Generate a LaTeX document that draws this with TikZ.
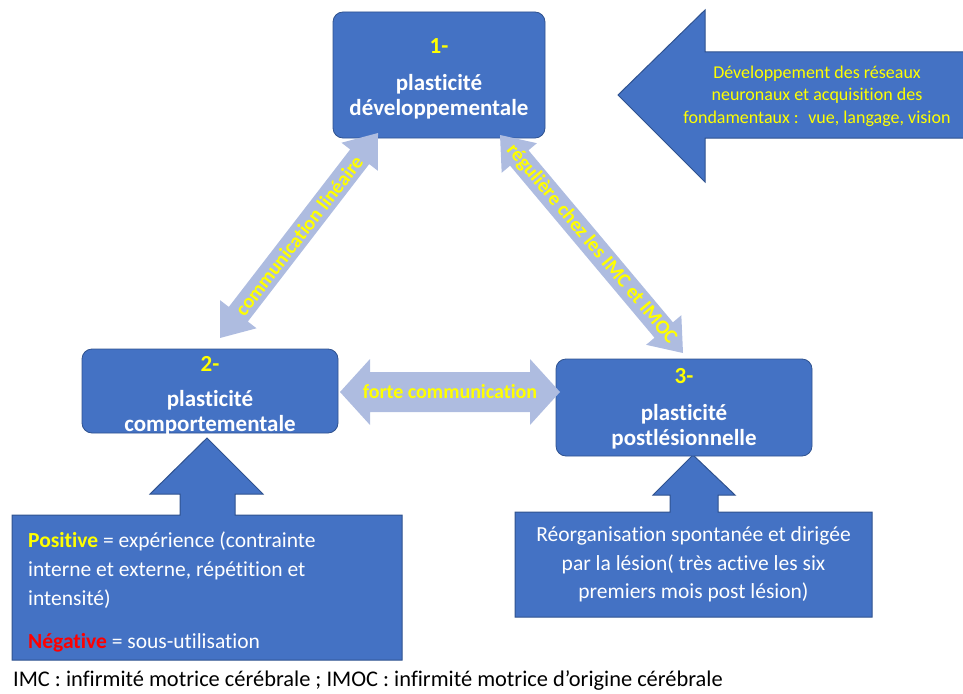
\documentclass[tikz,border=0pt]{standalone}
\usepackage{fontspec}
\setmainfont{Carlito}[Ligatures=NoCommon]
\usetikzlibrary{calc}
\definecolor{boxblue}{HTML}{4472C4}
\definecolor{boxedge}{HTML}{2F528F}
\definecolor{pale}{HTML}{AEBCE0}
\definecolor{ylw}{HTML}{FFFF00}
\definecolor{rd}{HTML}{FF0000}
% fat double arrow: A, B, half shaft, half head, head length, style
\newcommand\paledouble[6]{%
  \fill[#6] (#1)
    -- ($($(#1)!#5!(#2)$)!#4!90:(#2)$)
    -- ($($(#1)!#5!(#2)$)!#3!90:(#2)$)
    -- ($($(#2)!#5!(#1)$)!#3!-90:(#1)$)
    -- ($($(#2)!#5!(#1)$)!#4!-90:(#1)$)
    -- (#2)
    -- ($($(#2)!#5!(#1)$)!#4!90:(#1)$)
    -- ($($(#2)!#5!(#1)$)!#3!90:(#1)$)
    -- ($($(#1)!#5!(#2)$)!#3!-90:(#2)$)
    -- ($($(#1)!#5!(#2)$)!#4!-90:(#2)$)
    -- cycle;}
\tikzset{
  mainbox/.style={fill=boxblue, draw=boxedge, line width=0.8pt, rounded corners=10pt,
    inner sep=0pt},
  boxtext/.style={inner sep=0pt, align=center, text=white,
    font=\fontsize{23}{25}\selectfont\bfseries},
  bluecallout/.style={fill=boxblue, draw=boxedge, line width=1pt},
  arrowtext/.style={text=ylw, inner sep=0pt, font=\fontsize{20}{22}\selectfont\bfseries},
  calltext/.style={text=white, inner sep=0pt, font=\fontsize{21.5}{28.5}\selectfont},
}
\begin{document}
\begin{tikzpicture}[x=1pt,y=-1pt]
\useasboundingbox (0,0) rectangle (963,693);

% big arrow top right
\draw[bluecallout] (618,95) -- (705,10) -- (705,52) -- (966,52) -- (966,138)
  -- (705,138) -- (705,182) -- cycle;
\node[text=ylw, align=center, inner sep=0pt, font=\fontsize{18}{22.5}\selectfont]
  (devtext) at (817,96) {Développement des réseaux\\neuronaux et acquisition des\\fondamentaux :~ vue, langage, vision};

% bottom-left callout
\draw[bluecallout] (12,515) -- (180,515) -- (180,494) -- (150,494) -- (207,438)
  -- (263,494) -- (235,494) -- (235,515) -- (402,515) -- (402,660) -- (12,660) -- cycle;
\node[calltext, anchor=base west] (pos1) at (28,547) {\textcolor{ylw}{\bfseries Positive} = expérience (contrainte};
\node[calltext, anchor=base west] (pos2) at (28,576) {interne et externe, répétition et};
\node[calltext, anchor=base west] (pos3) at (28,605) {intensité)};
\node[calltext, anchor=base west] (neg) at (28,648) {\textcolor{rd}{\bfseries Négative} = sous-utilisation};

% bottom-right callout
\draw[bluecallout] (515,512) -- (670,512) -- (670,495) -- (653,495) -- (693,455)
  -- (735,495) -- (718,495) -- (718,512) -- (872,512) -- (872,617) -- (515,617) -- cycle;
\node[calltext, align=center] (reorg) at (693.5,564.5)
  {Réorganisation spontanée et dirigée\\par la lésion( très active les six\\premiers mois post lésion)};

% main boxes
\node[mainbox, minimum width=212pt, minimum height=126pt] (b1) at (439,75) {};
\node[mainbox, minimum width=256pt, minimum height=84pt] (b2) at (210,391) {};
\node[mainbox, minimum width=256pt, minimum height=97pt] (b3) at (684,407.5) {};
\node[boxtext] (b1t) at ($(b1.center)+(0,4)$)
  {\textcolor{ylw}{1-}\\[12pt]plasticité\\développementale};
\node[boxtext] (b2t) at ($(b2.center)+(0,4.5)$)
  {\textcolor{ylw}{2-}\\[10pt]plasticité\\comportementale};
\node[boxtext] (b3t) at ($(b3.center)+(0,1.5)$)
  {\textcolor{ylw}{3-}\\[12pt]plasticité\\postlésionnelle};

% pale double arrows
\coordinate (l1) at (378,133);
\coordinate (l2) at (220,338);
\coordinate (r1) at (500,135);
\coordinate (r2) at (683,353);
\coordinate (h1) at (340,392);
\coordinate (h2) at (560,392);
\paledouble{l2}{l1}{12pt}{23pt}{30pt}{pale}
\paledouble{r1}{r2}{12pt}{23pt}{30pt}{pale}
\paledouble{h1}{h2}{20pt}{33pt}{30pt}{pale}
\path (l2) -- (l1) node[midway, sloped, arrowtext] (tl) {communication linéaire};
\path (r1) -- (r2) node[midway, sloped, arrowtext] (tr) {régulière chez les IMC et IMOC};
\path (h1) -- (h2) node[midway, arrowtext] (th) {forte communication};

% footnote
\node[anchor=base west, inner sep=0pt, font=\fontsize{22.4}{26}\selectfont] (foot) at (13,686)
  {IMC : infirmité motrice cérébrale ; IMOC : infirmité motrice d’origine cérébrale};
\end{tikzpicture}
\end{document}
